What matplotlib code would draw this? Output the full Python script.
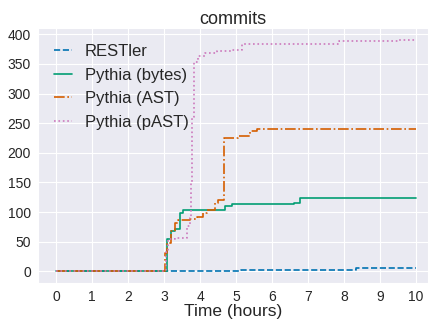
import matplotlib
matplotlib.use("Agg")
import matplotlib.pyplot as plt
import seaborn as sns

sns.set_style("darkgrid")
plt.rcParams['font.family'] = ['Liberation Sans', 'DejaVu Sans']

# step data (time in hours, cumulative commits)
restler_t = [0, 5.13, 8.32, 10.0]
restler_v = [0, 3, 5, 5]

bytes_t = [0, 3.09, 3.19, 3.31, 3.44, 3.52, 4.69, 4.88, 5.64, 6.61, 6.78, 10.0]
bytes_v = [0, 54, 68, 71, 98, 103, 110, 113, 114, 116, 124, 124]

ast_t = [0, 3.03, 3.09, 3.19, 3.31, 3.40, 3.72, 3.91, 4.09, 4.19, 4.42,
         4.51, 4.67, 5.06, 5.39, 5.57, 10.0]
ast_v = [0, 31, 48, 68, 82, 87, 89, 92, 99, 103, 115, 121, 225, 228,
         236, 240, 240]

past_t = [0, 3.06, 3.12, 3.31, 3.63, 3.72, 3.76, 3.79, 3.84, 3.95, 4.14,
          4.46, 4.85, 5.16, 7.86, 9.53, 10.0]
past_v = [0, 32, 54, 57, 76, 90, 150, 260, 353, 363, 369, 372, 373,
          383, 389, 391, 391]

pal = sns.color_palette("colorblind")

fig = plt.figure(figsize=(4.28, 3.21), dpi=100)
ax = fig.add_axes([38 / 428, 38 / 321, 390 / 428, 255 / 321])

ax.plot(restler_t, restler_v, drawstyle='steps-post', ls='--', lw=1.2,
        color=pal[0], label='RESTler')
ax.plot(bytes_t, bytes_v, drawstyle='steps-post', ls='-', lw=1.2,
        color=pal[2], label='Pythia (bytes)')
ax.plot(ast_t, ast_v, drawstyle='steps-post', ls='-.', lw=1.2,
        color=pal[3], label='Pythia (AST)')
ax.plot(past_t, past_v, drawstyle='steps-post', ls=':', lw=1.2,
        color=pal[4], label='Pythia (pAST)')

ax.set_xlim(-0.5, 10.33)
ax.set_ylim(-19.5, 410.5)
ax.set_xticks(range(0, 11))
ax.set_yticks(range(0, 401, 50))
ax.tick_params(labelsize=10, colors='#262626', pad=1.5)
ax.set_xlabel("Time (hours)", fontsize=12.5, color='#262626', labelpad=0)
ax.set_title("commits", fontsize=13, color='#262626', pad=3)
ax.legend(loc='upper left', fontsize=12, frameon=False,
          handlelength=1.1, handletextpad=0.75, borderaxespad=0.55,
          labelspacing=0.52)

fig.savefig("out.png", dpi=100)
